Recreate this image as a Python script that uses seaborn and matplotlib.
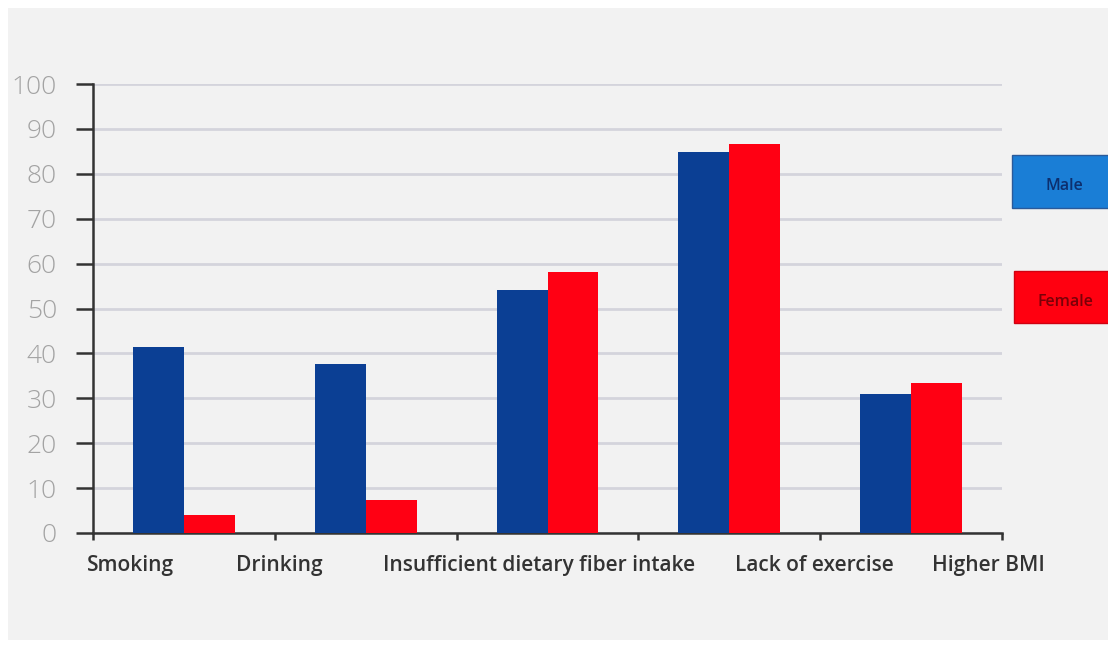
import matplotlib
matplotlib.use("Agg")
import matplotlib.pyplot as plt
from matplotlib.patches import Rectangle
import seaborn as sns
import pandas as pd

# Share of respondents (%) with each risk factor, by sex
categories = ["Smoking", "Drinking", "Insufficient dietary fiber intake",
              "Lack of exercise", "Higher BMI"]
male = [41.4, 37.6, 54.1, 84.9, 31.0]
female = [4.0, 7.3, 58.1, 86.6, 33.4]
series_names = ["Male", "Female"]
y_ticks = [0, 10, 20, 30, 40, 50, 60, 70, 80, 90, 100]

df = pd.DataFrame({
    "factor": categories * 2,
    "sex": [series_names[0]] * len(categories) + [series_names[1]] * len(categories),
    "value": male + female,
})

sns.set_theme(style="white")
plt.rcParams["font.family"] = ["Open Sans", "DejaVu Sans"]

BG = "#f2f2f2"
fig = plt.figure(figsize=(11.08, 6.5), dpi=100)
fig.patch.set_facecolor("white")
# light grey canvas inside a thin white margin
fig.patches.append(Rectangle((8 / 1108, 10 / 650), 1 - 8 / 1108, 1 - 18 / 650,
                             transform=fig.transFigure, facecolor=BG,
                             edgecolor="none", zorder=-10))

ax = fig.add_axes([93 / 1108, 1 - 533 / 650, (1002 - 93) / 1108, (533 - 84) / 650])
ax.set_facecolor(BG)
ax.set_zorder(1)

sns.barplot(data=df, x="factor", y="value", hue="sex", order=categories,
            hue_order=series_names, palette=["#0b3f94", "#ff0013"],
            width=0.56, gap=0, saturation=1, legend=False, ax=ax, zorder=3,
            linewidth=0, edgecolor="none")

ax.set_xlim(-0.5, len(categories) - 0.5)
ax.set_ylim(0, 100)
ax.set_yticks(y_ticks)
ax.yaxis.grid(True, color="#d4d4dc", linewidth=2.0, zorder=0)
ax.set_axisbelow(True)

for s in ["top", "right"]:
    ax.spines[s].set_visible(False)
for s in ["left", "bottom"]:
    ax.spines[s].set_color("#333333")
    ax.spines[s].set_linewidth(1.8)

ax.tick_params(axis="y", which="major", left=True, direction="out", length=12,
               width=1.8, color="#333333", pad=14, labelsize=19,
               labelcolor="#a3a3a3")
ax.set_yticklabels([str(v) for v in y_ticks])
for t in ax.get_yticklabels():
    t.set_fontweight("light")

# tick marks on group boundaries, labels on their own (unmarked) positions
ax.set_xticks([i - 0.5 for i in range(len(categories) + 1)])
ax.set_xticklabels([])
ax.tick_params(axis="x", which="major", bottom=True, direction="out", length=5,
               width=1.8, color="#333333")
label_pos = [-0.291, 0.523, 1.953, 3.466, 4.423]
ax.set_xticks(label_pos, minor=True)
ax.set_xticklabels(categories, minor=True)
ax.tick_params(axis="x", which="minor", bottom=True, length=0, pad=16,
               labelsize=15, labelcolor="#333333")
for t in ax.get_xticklabels(minor=True):
    t.set_fontweight("semibold")

ax.set_xlabel("")
ax.set_ylabel("")

# legend boxes on the right edge
legend_items = [
    (series_names[0], "#1a7ed6", "#2a5a9a", "#0d2f6e", 155, 208, 1012),
    (series_names[1], "#ff0010", "#d00010", "#7a0008", 271, 323, 1014),
]
for name, face, edge, tcol, top, bottom, left in legend_items:
    fig.patches.append(Rectangle((left / 1108, 1 - bottom / 650),
                                 (1108 - left) / 1108 + 0.01, (bottom - top) / 650,
                                 transform=fig.transFigure, facecolor=face,
                                 edgecolor=edge, linewidth=1, zorder=2))
    fig.text((left + 1108) / 2 / 1108 + 0.004, 1 - (top + bottom) / 2 / 650 - 0.007,
             name, ha="center", va="center", fontsize=11.5, fontweight="semibold",
             color=tcol, zorder=3)

fig.savefig("out.png", dpi=100, facecolor=fig.get_facecolor())
